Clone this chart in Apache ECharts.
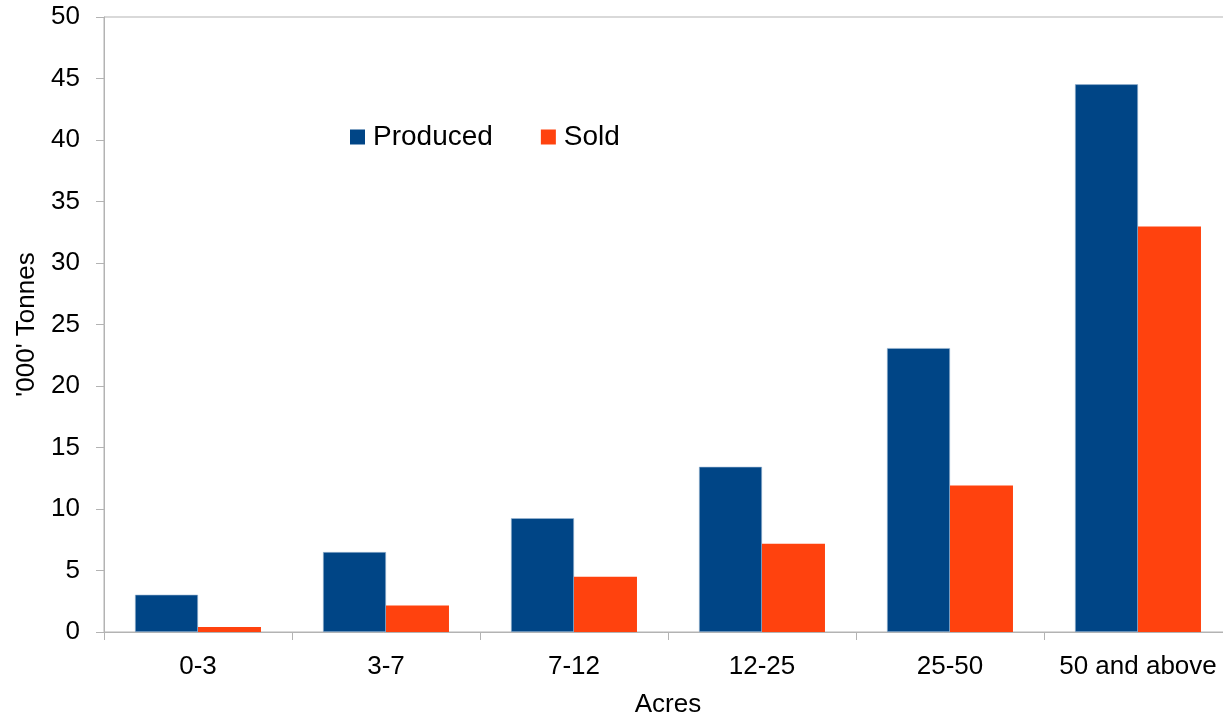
<!DOCTYPE html>
<html>
<head>
<meta charset="utf-8">
<script src="https://cdn.jsdelivr.net/npm/echarts@6/dist/echarts.min.js"></script>
<style>
html,body{margin:0;padding:0;background:#fff;}
#chart{width:1223px;height:717px;}
</style>
</head>
<body>
<div id="chart"></div>
<script>
const categories = ['0-3', '3-7', '7-12', '12-25', '25-50', '50 and above'];
const produced = [3.03, 6.5, 9.25, 13.43, 23.08, 44.53];
const sold = [0.41, 2.16, 4.49, 7.17, 11.92, 32.96];
const yTicks = { min: 0, max: 50, interval: 5 };

const FONT = '"Liberation Sans", Arial, sans-serif';
const chart = echarts.init(document.getElementById('chart'), null, { renderer: 'canvas' });
chart.setOption({
  animation: false,
  backgroundColor: '#ffffff',
  textStyle: { fontFamily: FONT, color: '#000' },
  grid: {
    left: 104, top: 17, right: -9, bottom: 85,
    outerBoundsMode: 'none', containLabel: false,
    show: true, borderColor: '#b3b3b3', borderWidth: 1, backgroundColor: 'transparent'
  },
  legend: {
    left: 345, top: 118,
    itemWidth: 15, itemHeight: 15, itemGap: 48,
    icon: 'rect',
    itemStyle: { borderWidth: 0 },
    textStyle: { fontFamily: FONT, fontSize: 28, color: '#000', padding: [0, 0, 0, 3] },
    data: ['Produced', 'Sold']
  },
  xAxis: {
    type: 'category',
    data: categories,
    name: 'Acres',
    nameLocation: 'middle',
    nameGap: 60,
    nameTextStyle: { fontFamily: FONT, fontSize: 26, color: '#000' },
    axisLine: { show: true, lineStyle: { color: '#b3b3b3', width: 1 } },
    axisTick: { show: true, length: 8, interval: 0, lineStyle: { color: '#b3b3b3' } },
    axisLabel: { fontFamily: FONT, fontSize: 26, color: '#000', margin: 22, interval: 0, hideOverlap: false },
    splitLine: { show: false }
  },
  yAxis: {
    type: 'value',
    min: yTicks.min, max: yTicks.max, interval: yTicks.interval,
    name: "'000' Tonnes",
    nameLocation: 'middle',
    nameGap: 64,
    nameRotate: 90,
    nameTextStyle: { fontFamily: FONT, fontSize: 26, color: '#000' },
    axisLine: { show: true, lineStyle: { color: '#b3b3b3', width: 1 } },
    axisTick: { show: true, length: 8, lineStyle: { color: '#b3b3b3' } },
    axisLabel: { fontFamily: FONT, fontSize: 26, color: '#000', margin: 24 },
    splitLine: { show: false }
  },
  series: [
    {
      name: 'Produced', type: 'bar', data: produced,
      barGap: '0%', barCategoryGap: '33%',
      itemStyle: { color: '#004586', borderColor: '#9db8d3', borderWidth: 0.6 }
    },
    {
      name: 'Sold', type: 'bar', data: sold,
      barGap: '0%', barCategoryGap: '33%',
      itemStyle: { color: '#ff420e' }
    }
  ]
});
</script>
</body>
</html>
